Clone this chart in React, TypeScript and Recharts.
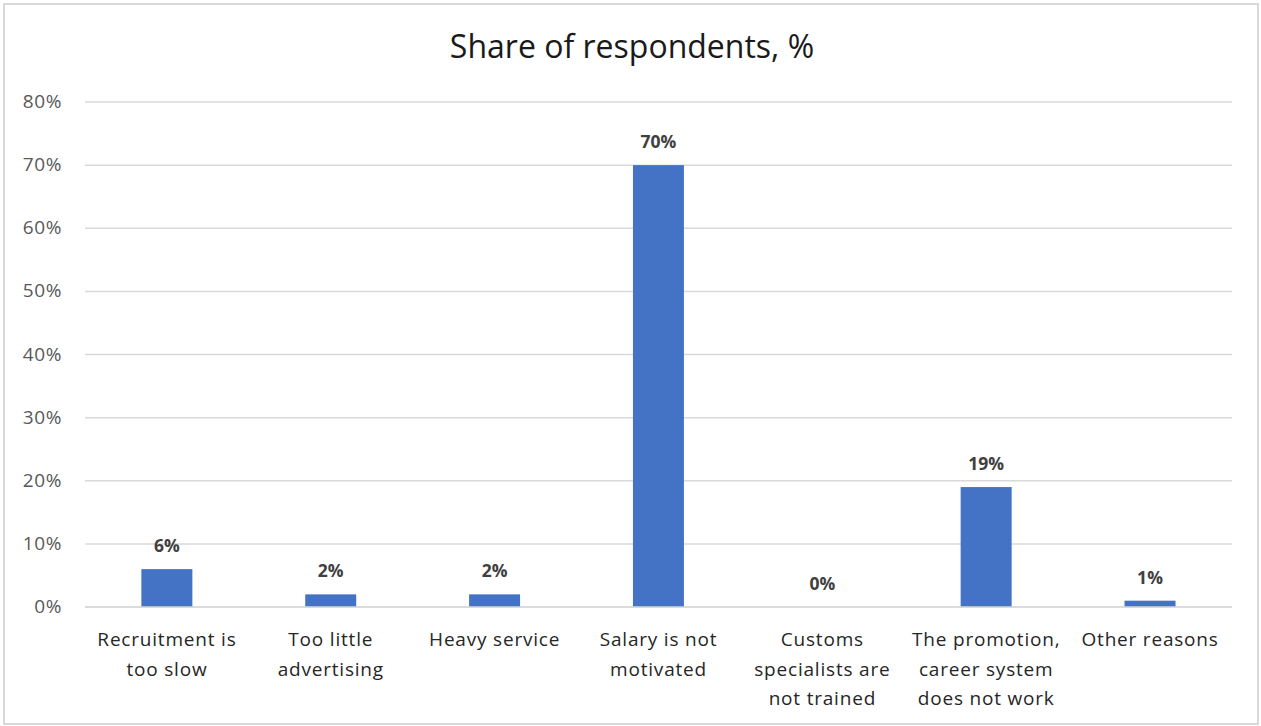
import { Bar, BarChart, CartesianGrid, XAxis, YAxis } from "recharts"

const categories = [
  "Recruitment is too slow",
  "Too little advertising",
  "Heavy service",
  "Salary is not motivated",
  "Customs specialists are not trained",
  "The promotion, career system does not work",
  "Other reasons",
]

// how each category name breaks onto lines under the axis
const categoryLines = [
  ["Recruitment is", "too slow"],
  ["Too little", "advertising"],
  ["Heavy service"],
  ["Salary is not", "motivated"],
  ["Customs", "specialists are", "not trained"],
  ["The promotion,", "career system", "does not work"],
  ["Other reasons"],
]

const shares = [6, 2, 2, 70, 0, 19, 1]

const yTicks = [0, 10, 20, 30, 40, 50, 60, 70, 80]

const data = categories.map((name, i) => ({ name, share: shares[i] }))

const FONT = "'Open Sans', Lato, sans-serif"

function CategoryTick(props: any) {
  const { x, y, index } = props
  const lines = categoryLines[index] || []
  return (
    <g transform={`translate(${x},${y})`}>
      {lines.map((l, i) => (
        <text key={i} x={0} y={i * 29.5} dy={19} textAnchor="middle" fill="#262626" fontSize={19} letterSpacing={0.8} fontFamily={FONT}>
          {l}
        </text>
      ))}
    </g>
  )
}

function ValueTick(props: any) {
  const { x, y, payload } = props
  return (
    <text x={x} y={y} dy={6} textAnchor="end" fill="#595959" fontSize={19} letterSpacing={0.6} fontFamily={FONT}>
      {payload.value}%
    </text>
  )
}

// bar plus its value label, so the 0% label still shows
function BarWithLabel(props: any) {
  const { x, y, width, height, fill, value } = props
  const v = Array.isArray(value) ? value[1] - value[0] : value
  return (
    <g>
      {height > 0 && <rect x={x} y={y} width={width} height={height} fill={fill} />}
      <text x={x + width / 2} y={y - 17} textAnchor="middle" fill="#404040" fontSize={17.5} fontWeight="bold" fontFamily={FONT}>
        {v}%
      </text>
    </g>
  )
}

export default function App() {
  return (
    <div style={{ position: "absolute", left: 0, top: 0, width: 1261, height: 726, background: "#fff" }}>
      <div
        style={{
          position: "absolute",
          left: 3,
          top: 3,
          width: 1252,
          height: 718,
          border: "2px solid #d9d9d9",
        }}
      />
      <div
        style={{
          position: "absolute",
          left: 0,
          top: 24,
          width: 1264,
          textAlign: "center",
          fontFamily: FONT,
          fontSize: 32,
          color: "#1a1a1a",
        }}
      >
        Share of respondents, %
      </div>
      <BarChart
        width={1261}
        height={726}
        data={data}
        margin={{ top: 102, right: 29, left: 0, bottom: 89 }}
        barCategoryGap="34.4%"
        style={{ position: "absolute", left: 0, top: 0 }}
      >
        <CartesianGrid vertical={false} stroke="#d9d9d9" strokeWidth={1.5} />
        <XAxis
          dataKey="name"
          axisLine={{ stroke: "#d9d9d9", strokeWidth: 1.5 }}
          tickLine={false}
          interval={0}
          tick={<CategoryTick />}
          tickMargin={14}
        />
        <YAxis
          width={85}
          domain={[0, 80]}
          ticks={yTicks}
          axisLine={false}
          tickLine={false}
          tickMargin={17}
          tick={<ValueTick />}
        />
        <Bar dataKey="share" fill="#4472C4" isAnimationActive={false} shape={<BarWithLabel />} />
      </BarChart>
    </div>
  )
}
